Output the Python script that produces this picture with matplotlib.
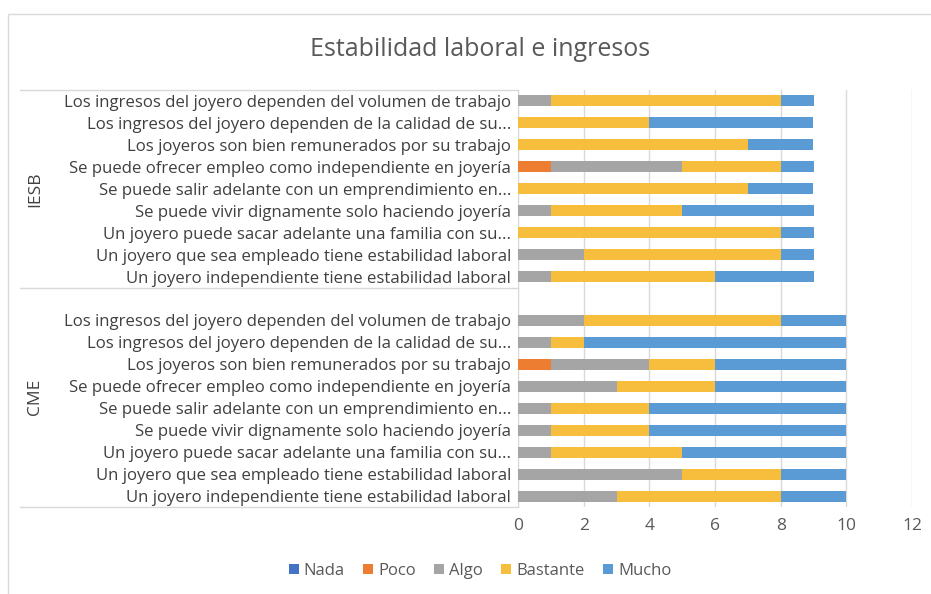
import matplotlib
matplotlib.use("Agg")
import matplotlib.pyplot as plt
from matplotlib.lines import Line2D
from matplotlib.patches import Rectangle, Patch
import numpy as np

plt.rcParams['font.family'] = ['Open Sans', 'DejaVu Sans']

# Categories, top to bottom within each group
statements = [
    "Los ingresos del joyero dependen del volumen de trabajo",
    "Los ingresos del joyero dependen de la calidad de su...",
    "Los joyeros son bien remunerados por su trabajo",
    "Se puede ofrecer empleo como independiente en joyería",
    "Se puede salir adelante con un emprendimiento en...",
    "Se puede vivir dignamente solo haciendo joyería",
    "Un joyero puede sacar adelante una familia con su...",
    "Un joyero que sea empleado tiene estabilidad laboral",
    "Un joyero independiente tiene estabilidad laboral",
]
groups = ["IESB", "CME"]
series = ["Nada", "Poco", "Algo", "Bastante", "Mucho"]
colors = ["#4472C4", "#ED7D31", "#A5A5A5", "#F6BE3C", "#5B9BD5"]

# values, statements in the order above
iesb_nada     = [0, 0, 0, 0, 0, 0, 0, 0, 0]
iesb_poco     = [0, 0, 0, 1, 0, 0, 0, 0, 0]
iesb_algo     = [1, 0, 0, 4, 0, 1, 0, 2, 1]
iesb_bastante = [7, 4, 7, 3, 7, 4, 8, 6, 5]
iesb_mucho    = [1, 5, 2, 1, 2, 4, 1, 1, 3]

cme_nada     = [0, 0, 0, 0, 0, 0, 0, 0, 0]
cme_poco     = [0, 0, 1, 0, 0, 0, 0, 0, 0]
cme_algo     = [2, 1, 3, 3, 1, 1, 1, 5, 3]
cme_bastante = [6, 1, 2, 3, 3, 3, 4, 3, 5]
cme_mucho    = [2, 8, 4, 4, 6, 6, 5, 2, 2]

xticks = [0, 2, 4, 6, 8, 10, 12]

W, H = 931, 594
fig = plt.figure(figsize=(W / 100, H / 100), dpi=100)
fig.patch.set_facecolor("white")

# chart frame
fig.add_artist(Rectangle((8 / W, -0.1), 1.2, (1 - 14 / H) + 0.1, transform=fig.transFigure,
                         fill=False, edgecolor="#D9D9D9", lw=1.0))

ax = fig.add_axes([518 / W, 1 - 507 / H, (912 - 518) / W, (507 - 90) / H])

n = len(statements)
# positions: CME rows 0..8 (bottom to top), blank row 9, IESB rows 10..18
cme_pos = np.arange(n)[::-1]
iesb_pos = np.arange(n)[::-1] + n + 1

iesb_vals = [iesb_nada, iesb_poco, iesb_algo, iesb_bastante, iesb_mucho]
cme_vals = [cme_nada, cme_poco, cme_algo, cme_bastante, cme_mucho]

bh = 0.5
for pos, vals in [(iesb_pos, iesb_vals), (cme_pos, cme_vals)]:
    left = np.zeros(n)
    for s, c, v in zip(series, colors, vals):
        v = np.array(v, dtype=float)
        ax.barh(pos, v, left=left, height=bh, color=c, zorder=3)
        left += v

ax.set_xlim(0, 12)
ax.set_ylim(-0.5, 2 * n + 0.5)
ax.set_xticks(xticks)
ax.set_xticklabels([str(t) for t in xticks], fontsize=12.5, color="#595959")
ax.tick_params(axis='x', length=0, pad=8)
ax.grid(axis='x', color="#D9D9D9", lw=1, zorder=0)

yt = list(cme_pos) + list(iesb_pos)
yl = statements + statements
ax.set_yticks(yt)
ax.set_yticklabels(yl, fontsize=12.1, color="#404040")
ax.tick_params(axis='y', length=0, pad=5)

for sp in ["top", "right", "bottom"]:
    ax.spines[sp].set_visible(False)
ax.spines["left"].set_color("#D9D9D9")

# group separators
trans = ax.get_yaxis_transform()
x0 = (20 - 518) / (912 - 518)
for yv in [-0.5, n + 0.5, 2 * n + 0.5]:
    ax.add_line(Line2D([x0, 0], [yv, yv], transform=trans, color="#D9D9D9", lw=1,
                       clip_on=False))

xg = (35 - 518) / (912 - 518)
ax.text(xg, np.mean(iesb_pos), groups[0], transform=trans, rotation=90, ha="center",
        va="center", fontsize=12.5, color="#404040")
ax.text(xg, (-0.5 + n + 0.5) / 2, groups[1], transform=trans, rotation=90, ha="center",
        va="center", fontsize=12.5, color="#404040")

fig.text(480 / W, 1 - 50 / H, "Estabilidad laboral e ingresos", ha="center", va="center",
         fontsize=18, color="#595959")

handles = [Patch(facecolor=c, edgecolor="none") for c in colors]
fig.legend(handles, series, loc="center", bbox_to_anchor=(480 / W, 1 - 571 / H), ncol=5,
           frameon=False, fontsize=12, handlelength=0.6, handleheight=0.6,
           handletextpad=0.3, columnspacing=1.1, labelcolor="#595959")

fig.savefig("out.png", dpi=100, facecolor="white")
